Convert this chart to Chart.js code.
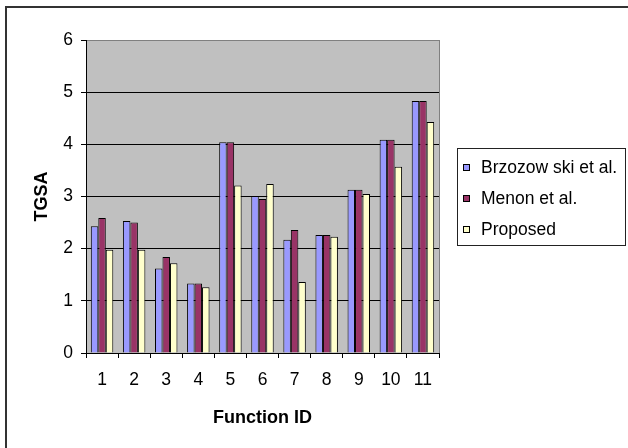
<!DOCTYPE html>
<html>
<head>
<meta charset="utf-8">
<script src="https://cdn.jsdelivr.net/npm/chart.js@4"></script>
<style>
  html, body { margin: 0; padding: 0; overflow: hidden; background: #fff; }
  #wrap { position: relative; width: 628px; height: 448px; }
  #frame { position: absolute; left: 5px; top: 6px; width: 640px; height: 460px; border: 2px solid #333; box-sizing: border-box; pointer-events: none; }
  #legend { position: absolute; left: 457px; top: 148px; width: 169px; height: 98px; border: 1px solid #222; box-sizing: border-box; font-family: Arial, "Liberation Sans", sans-serif; font-size: 17.5px; color: #000; }
  .item { position: absolute; left: 5px; height: 20px; line-height: 20px; white-space: nowrap; }
  .swatch { position: absolute; left: 0; top: 7px; width: 7px; height: 7px; border: 1px solid #000; box-sizing: border-box; }
  .label { position: absolute; left: 18px; top: 0; }
</style>
</head>
<body>
<div id="wrap">
  <canvas id="chart" width="628" height="448"></canvas>
  <div id="legend"></div>
  <div id="frame"></div>
</div>
<script>
// values
const functionIds = ['1', '2', '3', '4', '5', '6', '7', '8', '9', '10', '11'];
const brzozowski = [2.43, 2.53, 1.62, 1.33, 4.04, 3.01, 2.17, 2.26, 3.13, 4.09, 4.83];
const menon      = [2.59, 2.50, 1.84, 1.33, 4.04, 2.95, 2.36, 2.26, 3.13, 4.09, 4.83];
const proposed   = [1.98, 1.98, 1.72, 1.26, 3.21, 3.24, 1.36, 2.23, 3.05, 3.57, 4.43];
const seriesNames = ['Brzozow ski et al.', 'Menon et al.', 'Proposed'];
const seriesColors = ['#9999ff', '#993366', '#ffffcc'];

Chart.defaults.font.family = 'Arial, "Liberation Sans", sans-serif';
Chart.defaults.color = '#000';

// grey plot area with a grey frame on the right
const plotBg = {
  id: 'plotBg',
  beforeDraw(chart) {
    const { ctx, chartArea: a } = chart;
    ctx.save();
    ctx.fillStyle = '#c0c0c0';
    ctx.fillRect(a.left, a.top, a.width, a.height);
    ctx.restore();
  },
  beforeDatasetsDraw(chart) {
    const { ctx, chartArea: a } = chart;
    ctx.save();
    ctx.strokeStyle = '#808080';
    ctx.lineWidth = 1;
    ctx.beginPath();
    ctx.moveTo(Math.round(a.right) + 0.5, a.top);
    ctx.lineTo(Math.round(a.right) + 0.5, a.bottom);
    ctx.stroke();
    ctx.restore();
  }
};

const datasets = [brzozowski, menon, proposed].map((vals, i) => ({
  label: seriesNames[i],
  data: vals,
  backgroundColor: seriesColors[i],
  borderColor: '#000',
  borderWidth: 1,
  categoryPercentage: 0.7,
  barPercentage: 1
}));

const chart = new Chart(document.getElementById('chart'), {
  type: 'bar',
  data: { labels: functionIds, datasets },
  plugins: [plotBg],
  options: {
    responsive: false,
    animation: false,
    layout: { padding: { top: 40, right: 189, bottom: 0, left: 0 } },
    plugins: { legend: { display: false }, tooltip: { enabled: false } },
    scales: {
      x: {
        grid: { display: true, drawOnChartArea: false, offset: true, tickLength: 5, tickColor: '#000' },
        border: { color: '#000', width: 1 },
        ticks: { font: { size: 17.5 }, padding: 12, maxRotation: 0 },
        title: { display: true, text: 'Function ID', font: { size: 18, weight: 'bold' }, padding: { top: 0, bottom: 19 } },
        afterFit(scale) { scale.height = 95; }
      },
      y: {
        min: 0,
        max: 6,
        ticks: { stepSize: 1, font: { size: 17.5 }, padding: 8 },
        grid: {
          color: ctx => (ctx.tick && ctx.tick.value === 6 ? '#808080' : '#000'),
          tickColor: '#000',
          tickLength: 5
        },
        border: { color: '#000', width: 1 },
        title: { display: true, text: 'TGSA', font: { size: 18, weight: 'bold' }, padding: { top: 31, bottom: 0 } },
        afterFit(scale) { scale.width = 86; }
      }
    }
  }
});

// legend built from the chart's datasets
const legend = document.getElementById('legend');
const rowTops = [8, 39, 70];
chart.data.datasets.forEach((ds, i) => {
  const item = document.createElement('div');
  item.className = 'item';
  item.style.top = rowTops[i] + 'px';
  item.innerHTML = '<span class="swatch" style="background:' + ds.backgroundColor + '"></span><span class="label"></span>';
  item.querySelector('.label').textContent = ds.label;
  legend.appendChild(item);
});
</script>
</body>
</html>
